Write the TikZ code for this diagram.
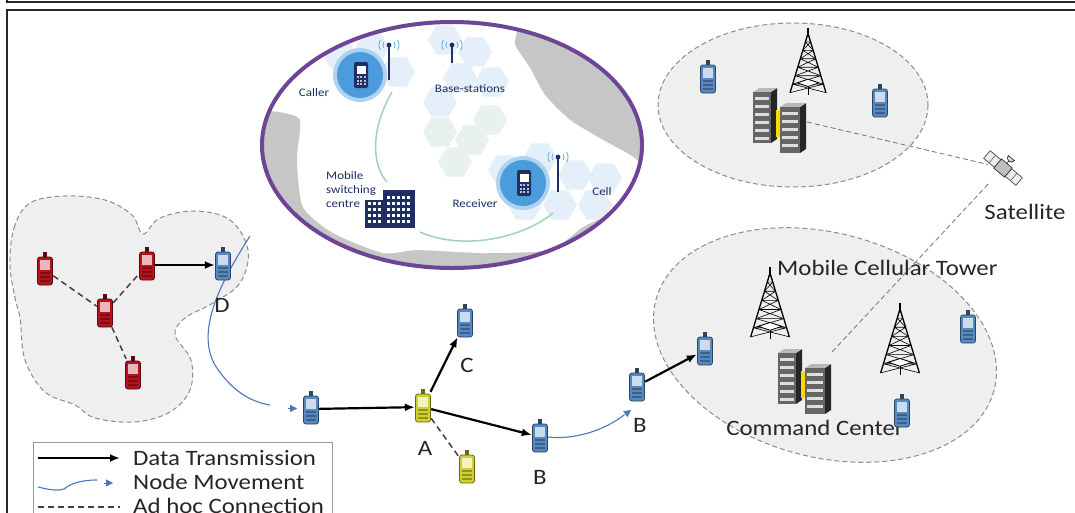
\documentclass[tikz,border=0pt]{standalone}
\usepackage{fontspec}
\setmainfont{Carlito}[FakeStretch=1.13]
\usetikzlibrary{arrows.meta}

\definecolor{phoneblue}{HTML}{5689C2}
\definecolor{phonered}{HTML}{B3131B}
\definecolor{phoneyellow}{HTML}{CFCF30}
\definecolor{movecol}{HTML}{4A78B8}
\definecolor{cloudgray}{HTML}{EFEFEF}
\definecolor{landgray}{HTML}{C6C6C6}
\definecolor{navy}{HTML}{1F2F66}
\definecolor{capsule}{HTML}{6E4596}
\definecolor{hexblue}{HTML}{E4EFF9}
\definecolor{hexteal}{HTML}{E8F1EE}
\definecolor{callblue}{HTML}{4C9BDB}
\definecolor{routegreen}{HTML}{9FD4B8}

\tikzset{
  pics/handset/.style={code={
    \fill[#1!50!black] (-1.8pt,11pt) rectangle (1.8pt,18pt);
    \draw[#1!50!black,fill=#1,line width=0.8pt,rounded corners=2.5pt] (-7.5pt,-15pt) rectangle (7.5pt,13pt);
    \fill[#1!30!white] (-5pt,0pt) rectangle (5pt,10pt);
    \foreach \ky in {-4,-8,-12}
      \fill[#1!70!black] (-5pt,\ky pt) rectangle (5pt,\ky pt+2pt);
  }},
  pics/callset/.style={code={
    \fill[navy,rounded corners=2pt] (-7pt,-13pt) rectangle (7pt,13pt);
    \fill[white] (-4.5pt,1pt) rectangle (4.5pt,9pt);
    \foreach \kx in {-4.5,-1,2.5}
      \foreach \ky in {-10,-6.5,-3}
        \fill[white!70!navy] (\kx pt,\ky pt) rectangle +(2pt,2pt);
  }},
  pics/mast/.style={code={
    \draw[navy,line width=1.6pt] (0,0) -- (0,-#1pt);
    \fill[navy] (0,0) circle[radius=2.4pt];
    \draw[callblue!80,line width=0.9pt]
      (150:6pt) arc[start angle=150,end angle=210,radius=6pt]
      (150:10pt) arc[start angle=150,end angle=210,radius=10pt]
      (30:6pt) arc[start angle=30,end angle=-30,radius=6pt]
      (30:10pt) arc[start angle=30,end angle=-30,radius=10pt];
  }},
  pics/exchange/.style={code={
    \fill[navy] (-25pt,-19pt) rectangle (-2pt,9pt);
    \fill[navy] (-7pt,-19pt) rectangle (25pt,19pt);
    \foreach \kx in {-22,-17,-12}
      \foreach \ky in {-14,-8,-2,4}
        \fill[white] (\kx pt,\ky pt) rectangle +(2.5pt,3pt);
    \foreach \kx in {-3,2,...,20}
      \foreach \ky in {-14,-8,...,14}
        \fill[white] (\kx pt,\ky pt) rectangle +(2.5pt,3pt);
  }},
  pics/tower/.style={code={
    \draw[line width=1.2pt] (0,34pt) -- (0,40pt);
    \draw[line width=1.3pt] (-20pt,-32pt) -- (0,34pt) -- (20pt,-32pt);
    \foreach \k in {0,...,6}{
      \pgfmathsetmacro\ya{34-9.4*\k}
      \pgfmathsetmacro\yb{34-9.4*(\k+1)}
      \pgfmathsetmacro\xa{20*(34-\ya)/66}
      \pgfmathsetmacro\xb{20*(34-\yb)/66}
      \draw[line width=0.6pt] (-\xa pt,\ya pt) -- (\xb pt,\yb pt)
        (\xa pt,\ya pt) -- (-\xb pt,\yb pt) (-\xa pt,\ya pt) -- (\xa pt,\ya pt);
    }
    \draw[line width=0.8pt,fill=white] (-12pt,-21pt) -- (0,-17pt) -- (12pt,-21pt) -- (0,-25pt) -- cycle;
    \draw[line width=1pt] (0,-25pt) -- (0,-34pt);
  }},
  pics/servers/.style={code={
    % left rack
    \fill[black!85] (-9pt,-21pt) -- (-3pt,-17pt) -- (-3pt,34pt) -- (-9pt,30pt) -- cycle;
    \fill[gray!55] (-27pt,30pt) -- (-21pt,34pt) -- (-3pt,34pt) -- (-9pt,30pt) -- cycle;
    \fill[black!60] (-27pt,-21pt) rectangle (-9pt,30pt);
    \foreach \ky in {25,17,9,1,-7,-15}
      \fill[gray!25] (-25pt,\ky pt) rectangle (-11pt,\ky pt-3pt);
    \fill[yellow!75!orange] (-4pt,-15pt) rectangle (1pt,12pt);
    % right rack
    \fill[black!85] (20pt,-31pt) -- (26pt,-27pt) -- (26pt,19pt) -- (20pt,15pt) -- cycle;
    \fill[gray!55] (0pt,15pt) -- (6pt,19pt) -- (26pt,19pt) -- (20pt,15pt) -- cycle;
    \fill[black!60] (0pt,-31pt) rectangle (20pt,15pt);
    \foreach \ky in {10,2,-6,-14,-22}
      \fill[gray!25] (2pt,\ky pt) rectangle (18pt,\ky pt-3pt);
  }},
  pics/satellite/.style={code={
    \begin{scope}[rotate=-40]
      \draw[black!70,fill=gray!15,line width=0.7pt] (-21pt,-5pt) rectangle (-7pt,5pt);
      \draw[black!70,fill=gray!15,line width=0.7pt] (7pt,-5pt) rectangle (21pt,5pt);
      \draw[black!70,line width=0.5pt] (-14pt,-5pt) -- (-14pt,5pt) (14pt,-5pt) -- (14pt,5pt);
      \draw[black!80,fill=gray!50,line width=0.7pt] (-7pt,-6pt) rectangle (7pt,6pt);
      \draw[black!80,line width=0.7pt] (0,6pt) -- (0,10pt);
      \draw[black!80,fill=gray!30,line width=0.7pt] (-4pt,13pt) arc[start angle=180,end angle=360,radius=4pt] -- cycle;
    \end{scope}
  }}
}

\begin{document}
\begin{tikzpicture}[x=1pt,y=-1pt,
    datalink/.style={line width=2.2pt,-{Latex[length=10pt,width=8pt]}},
    adhoc/.style={line width=1.5pt,draw=black!75,dash pattern=on 6pt off 4pt},
    movepath/.style={draw=movecol,line width=1.1pt},
    movehead/.style={draw=movecol,fill=movecol,line width=0.4pt,-{Triangle[length=7pt,width=7pt]}},
    satlink/.style={draw=black!55,line width=0.8pt,dash pattern=on 5pt off 3pt},
    cluster/.style={draw=black!45,fill=cloudgray,line width=1pt,dash pattern=on 5pt off 3pt},
    spot/.style={inner sep=0pt,minimum width=16pt,minimum height=30pt},
    tag/.style={font=\fontsize{22}{24}\selectfont,text=black!85,inner sep=1pt},
    maptag/.style={font=\fontsize{11.5}{14}\selectfont,text=navy,align=left,inner sep=0pt}
  ]
\clip (0,0) rectangle (1075,512);
\fill[white] (0,0) rectangle (1075,512);

% frame
\draw[black!85,line width=2.2pt] (7,-5) -- (7,2) -- (1080,2);
\draw[black!85,line width=2.2pt] (7,520) -- (7,10) -- (1080,10);

% coverage areas
\draw[cluster] plot[smooth cycle,tension=0.6] coordinates {(10,265) (14,228) (30,203) (65,196)
  (105,200) (132,215) (143,234) (160,218) (195,211) (230,220) (248,250) (240,283) (213,303)
  (185,318) (175,335) (191,360) (190,390) (170,412) (135,422) (95,418) (75,405) (45,392)
  (25,360) (20,318) (15,298)};
\draw[cluster] (793,105) ellipse[x radius=135,y radius=82];
\draw[cluster,rotate around={-15:(825,345)}] (825,345) ellipse[x radius=175,y radius=112];

% GSM inset
\begin{scope}
  \clip (452,145) ellipse[x radius=190,y radius=123];
  \fill[landgray] (250,15) rectangle (650,275);
  \fill[white] plot[smooth cycle,tension=0.4] coordinates {(250,105) (255,30) (350,20) (507,20)
    (515,45) (530,68) (545,95) (570,120) (603,140) (637,160) (645,185) (623,207) (583,227)
    (550,250) (483,253) (417,250) (383,253) (333,233) (303,207) (297,160) (300,120) (280,112)};
  \foreach \hx/\hy in {340/55,372/48,398/72,445/40,475/52,460/78,492/82,440/102,
                       505/170,540/158,575/175,560/205,595/205,525/205,605/178}
    \fill[hexblue] (\hx,\hy) +(0:17pt) -- +(60:17pt) -- +(120:17pt) -- +(180:17pt)
      -- +(240:17pt) -- +(300:17pt) -- cycle;
  \foreach \hx/\hy in {440/132,472/140,455/162,490/120}
    \fill[hexteal] (\hx,\hy) +(0:17pt) -- +(60:17pt) -- +(120:17pt) -- +(180:17pt)
      -- +(240:17pt) -- +(300:17pt) -- cycle;
  \draw[routegreen,line width=1.5pt] (392,92) .. controls (370,130) and (372,165) .. (387,182);
  \draw[routegreen,line width=1.5pt] (420,232) .. controls (460,250) and (520,240) .. (553,213);
\end{scope}
\draw[capsule,line width=4pt] (452,145) ellipse[x radius=190,y radius=123];

\fill[callblue!45] (360,75) circle[radius=27pt];
\fill[callblue] (360,75) circle[radius=23pt];
\pic at (361,75) {callset};
\fill[callblue!45] (523,183) circle[radius=27pt];
\fill[callblue] (523,183) circle[radius=23pt];
\pic at (524,183) {callset};
\pic at (389,45) {mast=35};
\pic at (452,45) {mast=18};
\pic at (558,157) {mast=35};
\pic at (390,209) {exchange};
\node[maptag] (caller) at (314,93) {Caller};
\node[maptag] (bases) at (470,89) {Base-stations};
\node[maptag,anchor=west] (msc) at (326,190) {Mobile\\switching\\centre};
\node[maptag] (receiver) at (475,204) {Receiver};
\node[maptag] (cell) at (602,192) {Cell};

% node positions
\node[spot] (adh1) at (45,270) {};
\node[spot] (adh2) at (147,265) {};
\node[spot] (adh3) at (105,312) {};
\node[spot] (adh4) at (133,374) {};
\node[spot] (nodeD) at (223,265) {};
\node[spot] (mvIn) at (311,409) {};
\node[spot] (nodeA) at (423,407) {};
\node[spot] (nodeC) at (465,322) {};
\node[spot] (nodeB) at (540,437) {};
\node[spot] (spare) at (467,468) {};
\node[spot] (nodeB2) at (637,386) {};
\node[spot] (topL) at (708,78) {};
\node[spot] (topR) at (880,102) {};
\node[spot] (cellL) at (705,350) {};
\node[spot] (cellR) at (968,328) {};
\node[spot] (cellB) at (902,412) {};
\node[inner sep=0pt,minimum width=54pt,minimum height=62pt] (ccTop) at (780,122) {};
\node[inner sep=0pt,minimum width=54pt,minimum height=62pt] (ccBot) at (805,383) {};
\node[inner sep=0pt,minimum size=30pt] (sat) at (1003,168) {};

% satellite links
\draw[satlink] (ccTop.east) -- (sat);
\draw[satlink] (ccBot.north east) -- (sat);

% towers and command centres
\pic[scale=0.9] at (808,64) {tower};
\pic[scale=0.97] at (770,306) {tower};
\pic[scale=0.97] at (900,342) {tower};
\pic at (ccTop) {servers};
\node[tag,anchor=west] (cellTower) at (776,268) {Mobile Cellular Tower};
\node[tag] (ccText) at (815,428) {Command Center};
\pic at (ccBot) {servers};
\pic at (sat) {satellite};
\node[tag] (satText) at (1025,212) {Satellite};

% movement
\draw[movepath] (250,236) .. controls (222,280) and (195,330) .. (215,365)
  .. controls (232,392) and (252,402) .. (270,405);
\draw[movehead] (288,408.5) -- (297,408.5);
\draw[movepath] (nodeB.east) .. controls (575,440) and (605,430) .. (624,415);
\draw[movehead] (623,416) -- (631,410);

% ad hoc links and transmissions
\draw[adhoc] (adh1) -- (adh3);
\draw[adhoc] (adh3) -- (adh2);
\draw[adhoc] (adh3) -- (adh4);
\draw[adhoc] (nodeA) -- (spare);
\draw[datalink] (adh2) -- (nodeD);
\draw[datalink] (mvIn) -- (nodeA);
\draw[datalink] (nodeA) -- (nodeC);
\draw[datalink] (nodeA) -- (nodeB);
\draw[datalink] (nodeB2) -- (cellL);

% handsets
\foreach \n in {adh1,adh2,adh3,adh4}
  \pic at (\n) {handset=phonered};
\foreach \n in {nodeA,spare}
  \pic at (\n) {handset=phoneyellow};
\foreach \n in {nodeD,mvIn,nodeC,nodeB,nodeB2,topL,topR,cellL,cellR,cellB}
  \pic at (\n) {handset=phoneblue};

\node[tag] (lblD) at (222,305) {D};
\node[tag] (lblA) at (425,448) {A};
\node[tag] (lblB) at (540,477) {B};
\node[tag] (lblC) at (467,365) {C};
\node[tag] (lblB2) at (640,425) {B};

% legend
\node[draw=black!40,fill=white,line width=0.8pt,minimum width=299pt,minimum height=90pt,
  anchor=north west,inner sep=0pt] (legend) at (33,442) {};
\draw[datalink] (38,458) -- (120,458);
\draw[movepath] (38,487) .. controls (50,490) and (58,491) .. (64,489)
  .. controls (70,484) and (80,480) .. (97,480);
\draw[movehead] (104,483) -- (113,483);
\draw[adhoc] (38,507) -- (120,507);
\node[tag,anchor=west] (lgData) at (132,458) {Data Transmission};
\node[tag,anchor=west] (lgMove) at (132,482) {Node Movement};
\node[tag,anchor=west] (lgAdhoc) at (132,506) {Ad hoc Connection};
\end{tikzpicture}
\end{document}
